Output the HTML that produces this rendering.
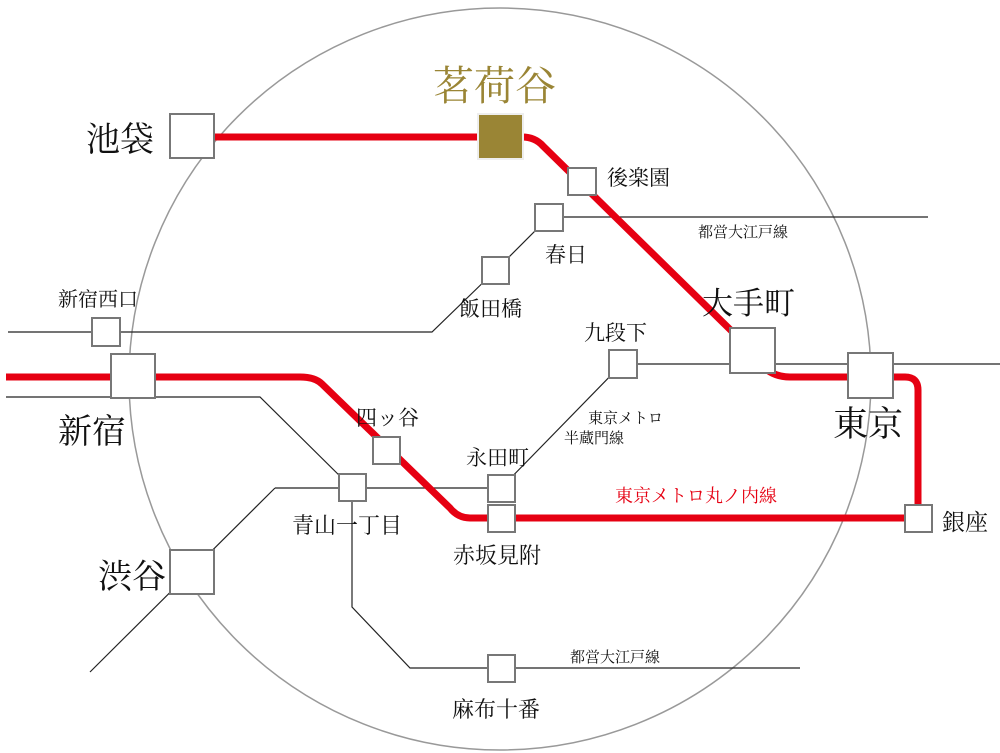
<!DOCTYPE html>
<html><head><meta charset="utf-8"><style>
html,body{margin:0;padding:0;background:#fff;}
svg{display:block;}
text{font-family:"Liberation Serif","Noto Serif CJK SC","Noto Sans CJK JP",serif;fill:#111;}
</style></head><body>
<svg width="1000" height="753" viewBox="0 0 1000 753" xmlns="http://www.w3.org/2000/svg">
<circle cx="500" cy="379" r="371" fill="none" stroke="#999" stroke-width="1.5"/>
<g fill="none" stroke="#222" stroke-width="1.2">
<polyline points="8,332 432,332 496,270 549,217 928,217"/>
<polyline points="6,397 260,397 352,488"/>
<polyline points="275,488 501,488"/>
<polyline points="275,488 90,672"/>
<polyline points="352,488 352,607 410,668 800,668"/>
<polyline points="501,488 622,364 1000,364"/>
</g>
<g fill="none" stroke="#e60012" stroke-width="7" stroke-linejoin="round">
<path d="M214,137 L522,137 Q535,137 543,146 L753,352 Q765,377 790,377 L905,377 Q918,377 918,390 L918,518 L470,518 Q458,518 450,508 L322,384 Q315,377 300,377 L6,377"/>
</g>
<g fill="#fff" stroke="#777" stroke-width="2">
<rect x="170" y="114" width="44" height="44"/>
<rect x="568" y="168" width="28" height="27"/>
<rect x="535" y="204" width="28" height="27"/>
<rect x="482" y="257" width="27" height="27"/>
<rect x="92" y="318" width="28" height="28"/>
<rect x="111" y="354" width="44" height="44"/>
<rect x="730" y="328" width="45" height="45"/>
<rect x="609" y="350" width="28" height="28"/>
<rect x="848" y="353" width="45" height="45"/>
<rect x="373" y="437" width="27" height="27"/>
<rect x="339" y="474" width="27" height="27"/>
<rect x="488" y="475" width="27" height="27"/>
<rect x="488" y="505" width="27" height="27"/>
<rect x="905" y="505" width="27" height="27"/>
<rect x="170" y="550" width="44" height="44"/>
<rect x="488" y="655" width="27" height="27"/>
</g>
<rect x="478" y="114" width="45" height="45" fill="#9a8535" stroke="#eee" stroke-width="2"/>
<text x="433" y="100" font-size="41" style="fill:#9a8535">茗荷谷</text>
<text x="86" y="151" font-size="34">池袋</text>
<text x="607" y="185" font-size="21">後楽園</text>
<text x="698" y="237" font-size="15">都営大江戸線</text>
<text x="545" y="262" font-size="21">春日</text>
<text x="459" y="316" font-size="21">飯田橋</text>
<text x="58" y="306" font-size="20">新宿西口</text>
<text x="702" y="314" font-size="31">大手町</text>
<text x="584" y="340" font-size="21">九段下</text>
<text x="58" y="443" font-size="34">新宿</text>
<text x="833" y="436" font-size="35">東京</text>
<text x="356" y="425" font-size="21">四ッ谷</text>
<text x="588" y="423" font-size="15">東京メトロ</text>
<text x="564" y="443" font-size="15">半蔵門線</text>
<text x="466" y="465" font-size="21">永田町</text>
<text x="615" y="502" font-size="18" style="fill:#e60012">東京メトロ丸ノ内線</text>
<text x="942" y="530" font-size="23">銀座</text>
<text x="292" y="533" font-size="22">青山一丁目</text>
<text x="453" y="563" font-size="22">赤坂見附</text>
<text x="98" y="588" font-size="34">渋谷</text>
<text x="570" y="662" font-size="15">都営大江戸線</text>
<text x="452" y="717" font-size="22">麻布十番</text>
</svg>
</body></html>
